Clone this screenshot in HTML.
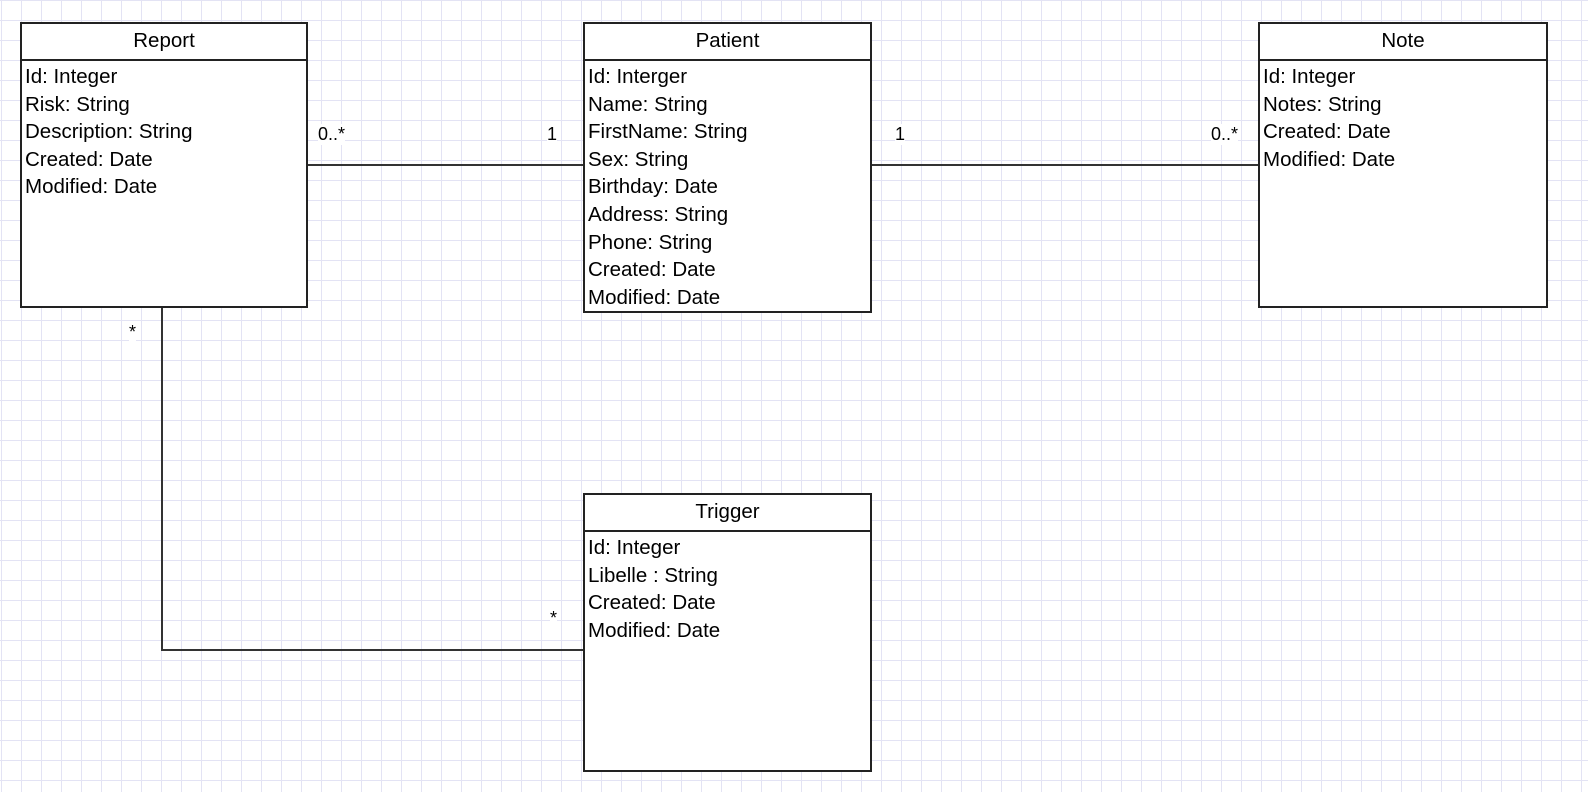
<!DOCTYPE html>
<html><head><style>
body{margin:0;width:1588px;height:792px;overflow:hidden;background:#fff;
background-image:linear-gradient(#e3e3f4 1px,transparent 1px),linear-gradient(90deg,#e3e3f4 1px,transparent 1px);
background-size:20px 20px;background-position:1px 0px;font-family:"Liberation Sans",sans-serif;color:#000;}
.box{position:absolute;border:2px solid #222;background:#fff;box-sizing:border-box;}
.h{height:35px;border-bottom:2px solid #222;text-align:center;font-size:20.5px;line-height:34px;}
.b{font-size:20.5px;line-height:27.6px;padding:2px 0 0 3px;}
.l{position:absolute;background:#333;}
.t{position:absolute;font-size:18px;background:#fff;}
</style></head><body>
<div class="box" style="left:20px;top:22px;width:288px;height:286px"><div class="h">Report</div><div class="b">Id: Integer<br>Risk: String<br>Description: String<br>Created: Date<br>Modified: Date</div></div>
<div class="box" style="left:583px;top:22px;width:289px;height:291px"><div class="h">Patient</div><div class="b">Id: Interger<br>Name: String<br>FirstName: String<br>Sex: String<br>Birthday: Date<br>Address: String<br>Phone: String<br>Created: Date<br>Modified: Date</div></div>
<div class="box" style="left:1258px;top:22px;width:290px;height:286px"><div class="h">Note</div><div class="b">Id: Integer<br>Notes: String<br>Created: Date<br>Modified: Date</div></div>
<div class="box" style="left:583px;top:493px;width:289px;height:279px"><div class="h">Trigger</div><div class="b">Id: Integer<br>Libelle : String<br>Created: Date<br>Modified: Date</div></div>
<div class="l" style="left:308px;top:164px;width:275px;height:2px"></div>
<div class="l" style="left:872px;top:164px;width:386px;height:2px"></div>
<div class="l" style="left:161px;top:308px;width:2px;height:343px"></div>
<div class="l" style="left:161px;top:649px;width:422px;height:2px"></div>
<div class="t" style="left:318px;top:124px">0..*</div>
<div class="t" style="left:547px;top:124px">1</div>
<div class="t" style="left:895px;top:124px">1</div>
<div class="t" style="left:1211px;top:124px">0..*</div>
<div class="t" style="left:129px;top:322px">*</div>
<div class="t" style="left:550px;top:608px">*</div>
</body></html>
